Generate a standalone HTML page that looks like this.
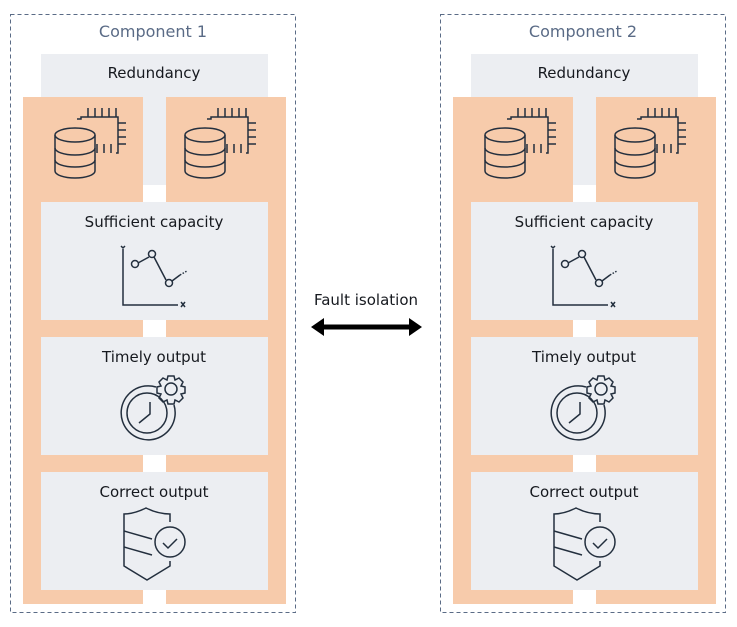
<!DOCTYPE html>
<html><head><meta charset="utf-8"><style>
html,body{margin:0;padding:0;background:#fff;width:737px;height:627px;overflow:hidden}
svg{display:block}
text{font-family:"DejaVu Sans","Liberation Sans",sans-serif;font-size:15px;fill:#16191f}
</style></head><body>
<svg width="737" height="627" viewBox="0 0 737 627" xmlns="http://www.w3.org/2000/svg">
<g>
<rect x="10.5" y="14.5" width="285" height="598" fill="none" stroke="#5a6b86" stroke-dasharray="4,3"/>
<text x="153" y="37" text-anchor="middle" style="font-size:16px;fill:#5a6b86">Component 1</text>
<rect x="41" y="54" width="227" height="131" fill="#eceef2"/>
<text x="154" y="78" text-anchor="middle">Redundancy</text>
<rect x="23" y="97" width="120" height="507" fill="#f7cbab"/>
<rect x="166" y="97" width="120" height="507" fill="#f7cbab"/>
<rect x="41" y="202" width="227" height="118" fill="#eceef2"/>
<rect x="41" y="337" width="227" height="118" fill="#eceef2"/>
<rect x="41" y="472" width="227" height="118" fill="#eceef2"/>
<text x="154" y="227" text-anchor="middle">Sufficient capacity</text>
<text x="154" y="362" text-anchor="middle">Timely output</text>
<text x="154" y="497" text-anchor="middle">Correct output</text>
<g fill="none" stroke="#232f3e" stroke-width="1.5">
 <path d="M77 119 h4 v-2 h37 v36 h-2 M88 117 v-9 M95 117 v-9 M102 117 v-9 M109 117 v-9 M116 117 v-9 M118 123 h8 M118 130 h8 M118 137 h8 M118 144 h8 M111 153 v-9 M104 153 v-9 M97 153 v-9"/>
 <path d="M55 135 v36 a20 7 0 0 0 40 0 v-36" fill="#f7cbab"/>
 <ellipse cx="75" cy="135" rx="20" ry="7" fill="#f7cbab"/>
 <path d="M55 148 a20 7 0 0 0 40 0 M55 160 a20 7 0 0 0 40 0"/>
 <g transform="translate(130,0)"><path d="M77 119 h4 v-2 h37 v36 h-2 M88 117 v-9 M95 117 v-9 M102 117 v-9 M109 117 v-9 M116 117 v-9 M118 123 h8 M118 130 h8 M118 137 h8 M118 144 h8 M111 153 v-9 M104 153 v-9 M97 153 v-9"/>
 <path d="M55 135 v36 a20 7 0 0 0 40 0 v-36" fill="#f7cbab"/>
 <ellipse cx="75" cy="135" rx="20" ry="7" fill="#f7cbab"/>
 <path d="M55 148 a20 7 0 0 0 40 0 M55 160 a20 7 0 0 0 40 0"/></g>
 <path d="M123 249 v56 h55 M121 246 l2 2 l2 -2 M181 302 l4 5 M185 302 l-4 5"/>
 <path d="M138 263 l11 -6 M154 257 l12 23 M172 281 l8 -6"/>
 <path d="M180 275 l7 -4" stroke-dasharray="1.5,1.5"/>
 <circle cx="135" cy="264" r="3.5"/><circle cx="152" cy="254" r="3.5"/><circle cx="169" cy="283" r="3.5"/>
 <path d="M156 387 A27 27 0 1 0 174 405"/>
 <circle cx="147" cy="413" r="20"/>
 <path d="M150 402 v12 l-11 9"/>
 <circle cx="171" cy="389" r="6"/>
 <path d="M168 376 h6 l1 4 l4 -2 l4 4 l-2 4 l4 1 v6 l-4 1 l2 4 l-4 4 l-4 -2 l-1 4 h-6 l-1 -4 l-4 2 l-4 -4 l2 -4 l-4 -1 v-6 l4 -1 l-2 -4 l4 -4 l4 2 z"/>
 <path d="M170 522 v-8 q-12 0 -24 -6 q-12 6 -22 6 v52 l23 14 l23 -14 v-5"/>
 <path d="M124 531 l28 8 M124 547 l28 8"/>
 <circle cx="170" cy="542" r="15"/>
 <path d="M163 543 l5 5 l9 -9"/>
</g>
</g>
<g transform="translate(430,0)">
<rect x="10.5" y="14.5" width="285" height="598" fill="none" stroke="#5a6b86" stroke-dasharray="4,3"/>
<text x="153" y="37" text-anchor="middle" style="font-size:16px;fill:#5a6b86">Component 2</text>
<rect x="41" y="54" width="227" height="131" fill="#eceef2"/>
<text x="154" y="78" text-anchor="middle">Redundancy</text>
<rect x="23" y="97" width="120" height="507" fill="#f7cbab"/>
<rect x="166" y="97" width="120" height="507" fill="#f7cbab"/>
<rect x="41" y="202" width="227" height="118" fill="#eceef2"/>
<rect x="41" y="337" width="227" height="118" fill="#eceef2"/>
<rect x="41" y="472" width="227" height="118" fill="#eceef2"/>
<text x="154" y="227" text-anchor="middle">Sufficient capacity</text>
<text x="154" y="362" text-anchor="middle">Timely output</text>
<text x="154" y="497" text-anchor="middle">Correct output</text>
<g fill="none" stroke="#232f3e" stroke-width="1.5">
 <path d="M77 119 h4 v-2 h37 v36 h-2 M88 117 v-9 M95 117 v-9 M102 117 v-9 M109 117 v-9 M116 117 v-9 M118 123 h8 M118 130 h8 M118 137 h8 M118 144 h8 M111 153 v-9 M104 153 v-9 M97 153 v-9"/>
 <path d="M55 135 v36 a20 7 0 0 0 40 0 v-36" fill="#f7cbab"/>
 <ellipse cx="75" cy="135" rx="20" ry="7" fill="#f7cbab"/>
 <path d="M55 148 a20 7 0 0 0 40 0 M55 160 a20 7 0 0 0 40 0"/>
 <g transform="translate(130,0)"><path d="M77 119 h4 v-2 h37 v36 h-2 M88 117 v-9 M95 117 v-9 M102 117 v-9 M109 117 v-9 M116 117 v-9 M118 123 h8 M118 130 h8 M118 137 h8 M118 144 h8 M111 153 v-9 M104 153 v-9 M97 153 v-9"/>
 <path d="M55 135 v36 a20 7 0 0 0 40 0 v-36" fill="#f7cbab"/>
 <ellipse cx="75" cy="135" rx="20" ry="7" fill="#f7cbab"/>
 <path d="M55 148 a20 7 0 0 0 40 0 M55 160 a20 7 0 0 0 40 0"/></g>
 <path d="M123 249 v56 h55 M121 246 l2 2 l2 -2 M181 302 l4 5 M185 302 l-4 5"/>
 <path d="M138 263 l11 -6 M154 257 l12 23 M172 281 l8 -6"/>
 <path d="M180 275 l7 -4" stroke-dasharray="1.5,1.5"/>
 <circle cx="135" cy="264" r="3.5"/><circle cx="152" cy="254" r="3.5"/><circle cx="169" cy="283" r="3.5"/>
 <path d="M156 387 A27 27 0 1 0 174 405"/>
 <circle cx="147" cy="413" r="20"/>
 <path d="M150 402 v12 l-11 9"/>
 <circle cx="171" cy="389" r="6"/>
 <path d="M168 376 h6 l1 4 l4 -2 l4 4 l-2 4 l4 1 v6 l-4 1 l2 4 l-4 4 l-4 -2 l-1 4 h-6 l-1 -4 l-4 2 l-4 -4 l2 -4 l-4 -1 v-6 l4 -1 l-2 -4 l4 -4 l4 2 z"/>
 <path d="M170 522 v-8 q-12 0 -24 -6 q-12 6 -22 6 v52 l23 14 l23 -14 v-5"/>
 <path d="M124 531 l28 8 M124 547 l28 8"/>
 <circle cx="170" cy="542" r="15"/>
 <path d="M163 543 l5 5 l9 -9"/>
</g>
</g>
<text x="366" y="305" text-anchor="middle">Fault isolation</text>
<path d="M311 327 L324 318 L324 324.5 L409 324.5 L409 318 L422 327 L409 336 L409 329.5 L324 329.5 L324 336 Z" fill="#000"/>
</svg>
</body></html>
